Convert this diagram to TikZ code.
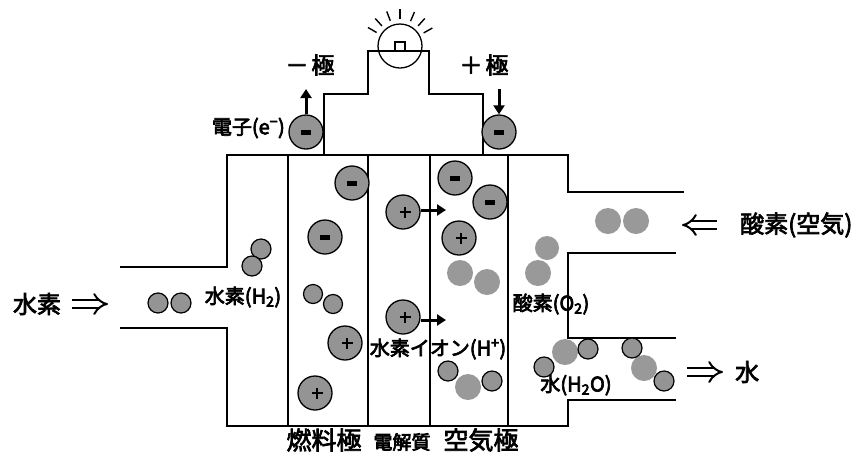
\documentclass[tikz,border=0pt]{standalone}
\usepackage{fontspec}
\setmainfont{Noto Sans CJK JP}
\usetikzlibrary{arrows.meta}
% heavier text: fill and stroke the glyph outlines
\newcommand{\heavy}[1]{\special{pdf:literal direct 2 Tr 0.7 w}#1\special{pdf:literal direct 0 Tr}}
\newcommand{\fsz}[1]{\fontsize{#1}{#1}\selectfont}
% charge marks drawn with rules
\newcommand{\minusmark}{\rule{10pt}{5pt}}
\newcommand{\plusmark}{\rule{11pt}{2.6pt}\hspace{-6.8pt}\rule[-4.2pt]{2.6pt}{11pt}\hspace{4.2pt}}
\begin{document}
\begin{tikzpicture}[x=1pt,y=-1pt,
  wall/.style={line width=1.6pt,line join=miter},
  ion/.style={circle,draw,line width=1.3pt,fill=black!42,minimum size=34pt,inner sep=0pt},
  hatom/.style={circle,draw,line width=1.2pt,fill=black!42,minimum size=20pt,inner sep=0pt},
  oatom/.style={circle,fill=black!40,minimum size=26pt,inner sep=0pt},
  flowarrow/.style={double,double distance=5.5pt,line width=2pt,-{Implies}},
  iondrift/.style={line width=3pt,-{Triangle[length=9pt,width=11pt]}},
  lbl/.style={inner sep=0pt,font=\fsz{20}},
  biglbl/.style={inner sep=0pt,font=\fsz{23}}]
\useasboundingbox (0,0) rectangle (866,456);

% cell body and gas channels
\draw[wall] (120,267) -- (227,267) -- (227,155) -- (568,155) -- (568,192) -- (684,192);
\draw[wall] (676,253) -- (568,253) -- (568,338) -- (676,338);
\draw[wall] (676,400) -- (568,400) -- (568,426) -- (227,426) -- (227,328) -- (120,328);
\foreach \x in {288,368,430,508} \draw[wall] (\x,155) -- (\x,426);

% external circuit and lamp
\draw[wall] (324,155) -- (324,94) -- (368,94) -- (368,51) -- (429,51) -- (429,94) -- (483,94) -- (483,155);
\draw[line width=1.3pt] (400,46) circle[radius=22];
\draw[wall] (395,51) -- (395,42) -- (405,42) -- (405,51);
\foreach \a in {29,48,67,90,111,132,150}
  \draw[line width=1.4pt] (400,46) ++(-\a:27) -- ++(-\a:10);

% electrode signs
\node[biglbl] (neg) at (310,65) {\heavy{－\hspace{3pt}極}};
\node[biglbl] (pos) at (484,65) {\heavy{＋\hspace{3pt}極}};

% electrons in the wire
\node[ion] (e1) at (306,132) {\minusmark};
\node[ion] (e2) at (499,132) {\minusmark};
\coordinate (e1up) at (306,89);
\coordinate (e2top) at (499,89);
\draw[iondrift] (e1) -- (e1up);
\draw[iondrift] (e2top) -- (e2);
\node[lbl,anchor=east] (elbl) at (285,128) {\heavy{電子(e\textsuperscript{−})}};

% hydrogen side
\node[hatom] (h1) at (158,303) {};
\node[hatom] (h2) at (181,303) {};
\node[hatom] (h3) at (261,249) {};
\node[hatom] (h4) at (252,266) {};
\node[hatom,minimum size=19pt] (h5) at (313,294) {};
\node[hatom,minimum size=19pt] (h6) at (333,304) {};
\node[lbl] (h2lbl) at (243,297) {\heavy{水素(H\textsubscript{2})}};

% ions in fuel electrode
\node[ion] (m1) at (352,183) {\minusmark};
\node[ion] (m2) at (325,237) {\minusmark};
\node[ion] (p1) at (345,343) {\plusmark};
\node[ion] (p2) at (315,393) {\plusmark};

% protons crossing the electrolyte
\node[ion] (p3) at (403,212) {\plusmark};
\node[ion] (p4) at (403,317) {\plusmark};
\coordinate (p3end) at (446,210);
\coordinate (p4end) at (446,320);
\draw[iondrift] (p3.east |- p3end) -- (p3end);
\draw[iondrift] (p4.east |- p4end) -- (p4end);
\node[lbl] (hplbl) at (438,349) {\heavy{水素イオン(H\textsuperscript{+})}};

% air electrode
\node[ion] (m3) at (455,178) {\minusmark};
\node[ion] (m4) at (490,202) {\minusmark};
\node[ion] (p5) at (459,238) {\plusmark};
\node[oatom] (o1) at (460,273) {};
\node[oatom] (o2) at (487,282) {};
\node[hatom] (w1) at (448,371) {};
\node[oatom] (w2) at (468,387) {};
\node[hatom] (w3) at (492,381) {};

% oxygen supply
\node[oatom] (o3) at (608,221) {};
\node[oatom] (o4) at (636,221) {};
\node[oatom,minimum size=24pt] (o5) at (547,248) {};
\node[oatom] (o6) at (538,273) {};
\node[lbl] (o2lbl) at (551,304) {\heavy{酸素(O\textsubscript{2})}};

% water leaving
\node[oatom] (w5) at (565,352) {};
\node[hatom] (w4) at (544,367) {};
\node[hatom] (w6) at (588,349) {};
\node[oatom] (w8) at (644,368) {};
\node[hatom] (w7) at (632,348) {};
\node[hatom] (w9) at (664,381) {};
\node[lbl] (h2olbl) at (576,385) {\heavy{水(H\textsubscript{2}O)}};

% inlet and outlet labels
\node[biglbl,font=\fsz{24}] (inH) at (37,304) {\heavy{水素}};
\coordinate (inHa) at (72,304);
\coordinate (inHb) at (108,304);
\draw[flowarrow] (inHa) -- (inHb);
\node[biglbl,font=\fsz{24},anchor=west] (inO) at (740,225) {\heavy{酸素(空気)}};
\coordinate (inOa) at (717,225);
\coordinate (inOb) at (682,225);
\draw[flowarrow] (inOa) -- (inOb);
\node[biglbl,font=\fsz{24},anchor=west] (outW) at (735,372) {\heavy{水}};
\coordinate (outWa) at (687,372);
\coordinate (outWb) at (723,372);
\draw[flowarrow] (outWa) -- (outWb);

% layer names
\node[biglbl,font=\fsz{25}] (anode) at (324,440) {\heavy{燃料極}};
\node[biglbl,font=\fsz{19}] (elyte) at (402,442) {\heavy{電解質}};
\node[biglbl,font=\fsz{25}] (cathode) at (481,440) {\heavy{空気極}};
\end{tikzpicture}
\end{document}
